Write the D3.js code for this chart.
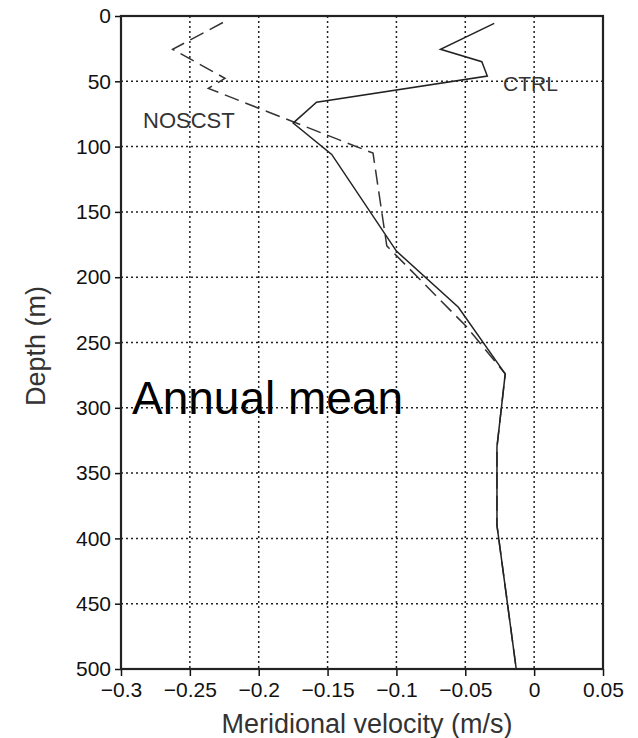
<!DOCTYPE html>
<html>
<head>
<meta charset="utf-8">
<script src="https://cdn.jsdelivr.net/npm/d3@7"></script>
<style>
  body { margin: 0; background: #fff; }
  text { font-family: "Liberation Sans", Arial, sans-serif; }
</style>
</head>
<body>
<div id="container"></div>
<script>
// depth (m) / velocity (m/s)
var ctrlDepth = [5.6, 25.5, 35, 46, 66, 82, 106, 180, 223, 274, 330, 390, 500];
var ctrlVel = [-0.029, -0.068, -0.038, -0.034, -0.158, -0.175, -0.147, -0.100, -0.055, -0.021, -0.027, -0.027, -0.013];
var noscDepth = [5, 25.5, 47.7, 55.4, 81, 105, 176, 238, 274, 330, 390, 500];
var noscVel = [-0.226, -0.2625, -0.2245, -0.2366, -0.175, -0.117, -0.107, -0.049, -0.021, -0.027, -0.027, -0.013];

var xTicks = [-0.3, -0.25, -0.2, -0.15, -0.1, -0.05, 0, 0.05];
var xTickLabels = ['\u22120.3', '\u22120.25', '\u22120.2', '\u22120.15', '\u22120.1', '\u22120.05', '0', '0.05'];
var yTicks = [0, 50, 100, 150, 200, 250, 300, 350, 400, 450, 500];

var width = 638, height = 738;
var plotL = 121, plotR = 603, plotT = 16, plotB = 669;

var svg = d3.select('#container')
      .append('svg')
      .attr('width', width)
      .attr('height', height);

var x = d3.scaleLinear().domain([-0.3, 0.05]).range([plotL, plotR]);
var y = d3.scaleLinear().domain([0, 500]).range([plotT, plotB]);

// dotted grid
svg.append('g').selectAll('line')
  .data(xTicks.slice(1, -1))
  .enter().append('line')
  .attr('x1', function(d) { return x(d); })
  .attr('x2', function(d) { return x(d); })
  .attr('y1', plotT).attr('y2', plotB)
  .style('stroke', '#222').style('stroke-width', 1.5)
  .style('stroke-dasharray', '2,3');

svg.append('g').selectAll('line')
  .data(yTicks.slice(1, -1))
  .enter().append('line')
  .attr('y1', function(d) { return y(d); })
  .attr('y2', function(d) { return y(d); })
  .attr('x1', plotL).attr('x2', plotR)
  .style('stroke', '#222').style('stroke-width', 1.5)
  .style('stroke-dasharray', '2,3');

// axes
var xAxis = svg.append('g')
  .attr('transform', 'translate(0,' + plotB + ')')
  .call(d3.axisBottom(x).tickValues(xTicks).tickSize(7).tickPadding(4)
    .tickFormat(function(d, i) { return xTickLabels[i]; }));
var yAxis = svg.append('g')
  .attr('transform', 'translate(' + plotL + ',0)')
  .call(d3.axisLeft(y).tickValues(yTicks).tickSize(6).tickPadding(4));

[xAxis, yAxis].forEach(function(a) {
  a.select('.domain').remove();
  a.selectAll('.tick line').style('stroke', '#111').style('stroke-width', 1.5);
  a.selectAll('.tick text').style('font-size', '21px').style('fill', '#111')
    .style('font-family', '"Liberation Sans", Arial, sans-serif');
});
xAxis.selectAll('.tick text').attr('dy', '0.8em');

// frame
svg.append('rect')
  .attr('x', plotL).attr('y', plotT)
  .attr('width', plotR - plotL).attr('height', plotB - plotT)
  .style('fill', 'none').style('stroke', '#222').style('stroke-width', 2.2);

// profiles
var line = d3.line()
  .x(function(d) { return x(d[1]); })
  .y(function(d) { return y(d[0]); });

svg.append('path')
  .datum(d3.zip(noscDepth, noscVel))
  .attr('d', line)
  .style('fill', 'none').style('stroke', '#333').style('stroke-width', 1.5)
  .style('stroke-dasharray', '15,7');

svg.append('path')
  .datum(d3.zip(ctrlDepth, ctrlVel))
  .attr('d', line)
  .style('fill', 'none').style('stroke', '#222').style('stroke-width', 1.5);

// labels
svg.append('text').attr('x', 503).attr('y', 91)
  .style('font-size', '21px').style('fill', '#333').text('CTRL');
svg.append('text').attr('x', 143).attr('y', 128)
  .style('font-size', '22px').style('fill', '#333').text('NOSCST');
svg.append('text').attr('x', 132).attr('y', 414)
  .style('font-size', '46px').style('fill', '#000').text('Annual mean');

svg.append('text').attr('x', 367).attr('y', 733)
  .attr('text-anchor', 'middle')
  .style('font-size', '27px').style('fill', '#333')
  .text('Meridional velocity (m/s)');
svg.append('text')
  .attr('transform', 'translate(45,346) rotate(-90)')
  .attr('text-anchor', 'middle')
  .style('font-size', '27px').style('fill', '#333')
  .text('Depth (m)');
</script>
</body>
</html>
